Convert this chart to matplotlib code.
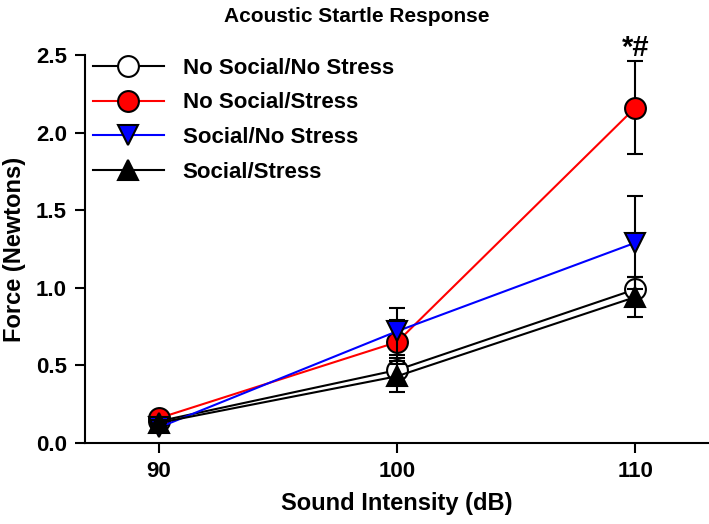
import matplotlib
matplotlib.use('Agg')
from matplotlib import pyplot as plt

plt.rcParams['font.family'] = ['Liberation Sans', 'DejaVu Sans']
plt.rcParams['font.weight'] = 'bold'

# data
intensity = [90, 100, 110]
groups = ['No Social/No Stress', 'No Social/Stress', 'Social/No Stress', 'Social/Stress']
force = {
    'No Social/No Stress': [0.14, 0.47, 0.99],
    'No Social/Stress':    [0.16, 0.65, 2.16],
    'Social/No Stress':    [0.10, 0.72, 1.29],
    'Social/Stress':       [0.13, 0.43, 0.94],
}
sem = {
    'No Social/No Stress': [0.02, 0.08, 0.08],
    'No Social/Stress':    [0.02, 0.14, 0.30],
    'Social/No Stress':    [0.02, 0.15, 0.30],
    'Social/Stress':       [0.02, 0.10, 0.13],
}
line_col = ['black', 'red', 'blue', 'black']
face_col = ['white', 'red', 'blue', 'black']
markers = ['o', 'o', 'v', '^']

fig = plt.figure(figsize=(7.09, 5.24), dpi=100)
ax = fig.add_axes([0.12, 0.1546, 0.88, 0.7404])

for i, g in enumerate(groups):
    ax.errorbar(intensity, force[g], yerr=sem[g], fmt='none', ecolor='black',
                elinewidth=1.5, capsize=6, capthick=1.5, zorder=2 + i)
    ax.plot(intensity, force[g], color=line_col[i], lw=1.5, marker=markers[i],
            markersize=15, markerfacecolor=face_col[i], markeredgecolor='black',
            markeredgewidth=1.5, label=g, zorder=3 + i)

ax.set_xlim(86.9, 113.1)
ax.set_ylim(0, 2.5)
ax.set_xticks(intensity)
ax.set_yticks([0.0, 0.5, 1.0, 1.5, 2.0, 2.5])
ax.set_yticklabels(['0.0', '0.5', '1.0', '1.5', '2.0', '2.5'])
ax.tick_params(labelsize=16, width=1.5, length=7, pad=6)
for s in ['top', 'right']:
    ax.spines[s].set_visible(False)
for s in ['left', 'bottom']:
    ax.spines[s].set_linewidth(1.5)
ax.spines['left'].set_bounds(0, 2.5)

ax.set_xlabel('Sound Intensity (dB)', fontsize=17, fontweight='bold', labelpad=7)
ax.set_ylabel('Force (Newtons)', fontsize=17, fontweight='bold', labelpad=7)
fig.text(0.503, 0.969, 'Acoustic Startle Response', fontsize=15,
         fontweight='bold', ha='center', va='center')

ax.text(110, 2.545, '*#', fontsize=21, fontweight='bold', ha='center', va='center')

leg = ax.legend(loc='upper left', bbox_to_anchor=(-0.02, 1.045), frameon=False,
                fontsize=16, handlelength=3.2, handletextpad=0.85, labelspacing=0.62)

fig.savefig('out.png', dpi=100)
